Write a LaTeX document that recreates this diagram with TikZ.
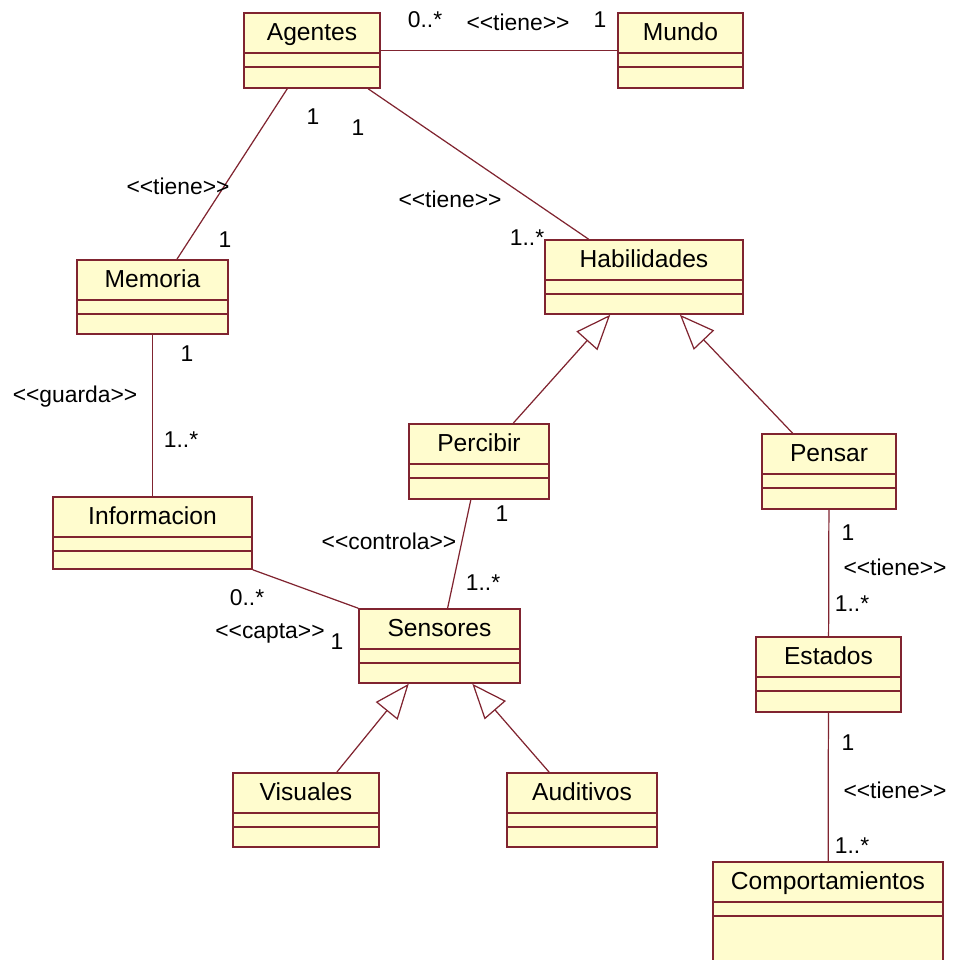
\documentclass[tikz,border=0pt]{standalone}
\usepackage{fontspec}
\setmainfont{Liberation Sans}[Ligatures=TeXOff]
\usetikzlibrary{calc,positioning,arrows.meta}
\definecolor{roseline}{RGB}{128,36,48}
\definecolor{rosefill}{RGB}{255,252,206}
\tikzset{
  class box/.style 2 args={
    draw=roseline, fill=rosefill, line width=.9pt,
    rectangle, inner sep=0pt,
    minimum width=#1*0.02cm, minimum height=#2*0.02cm
  },
  class name/.style={anchor=base, font=\fontsize{14}{16}\selectfont},
  compartment/.style={draw=roseline, line width=.9pt},
  assoc/.style={draw=roseline, line width=.7pt},
  generalize/.style={assoc, -{Triangle[open,length=0.7cm,width=0.56cm]}},
  mult/.style={font=\fontsize{13}{15}\selectfont, inner sep=0pt}
}
\newcommand{\stereo}[1]{<<#1>>}

\begin{document}
\begin{tikzpicture}[x=0.02cm,y=-0.02cm]
  \path[use as bounding box] (0,0) rectangle (958,960);
  \clip (0,0) rectangle (958,960);

  % classes: name/text/centre x/centre y/width/height
  \foreach \nm/\txt/\cx/\cy/\bw/\bh in {agentes/Agentes/312/50.5/136/75,
      mundo/Mundo/680.5/50.5/125/75,
      memoria/Memoria/152.5/297/151/74,
      habilidades/Habilidades/644/277/198/74,
      percibir/Percibir/479/461.5/140/75,
      pensar/Pensar/829/471.5/134/75,
      informacion/Informacion/152.5/533/199/72,
      sensores/Sensores/439.5/646/161/74,
      estados/Estados/828.5/674.5/145/75,
      visuales/Visuales/306/810/146/74,
      auditivos/Auditivos/582/810/150/74,
      comportamientos/Comportamientos/828/931/230/138}
  {
    \node[class box={\bw}{\bh}] (\nm) at (\cx,\cy) {};
    \draw[compartment] ([yshift=-0.82cm]\nm.north west) -- ([yshift=-0.82cm]\nm.north east)
      ([yshift=-1.1cm]\nm.north west) -- ([yshift=-1.1cm]\nm.north east);
    \node[class name] (\nm_label) at ([yshift=-0.56cm]\nm.north) {\txt};
  }

  % associations
  \draw[assoc] (agentes) -- (mundo);
  \draw[assoc] (agentes) -- (memoria);
  \draw[assoc] (agentes) -- (habilidades);
  \draw[assoc] (memoria) -- (informacion);
  \draw[assoc] (informacion.south east) -- (sensores.north west);
  \draw[assoc] (percibir) -- (sensores);
  \draw[assoc] (pensar) -- (estados);
  \draw[assoc] (estados) -- (comportamientos);

  % generalizations
  \draw[generalize] (percibir) -- (habilidades);
  \draw[generalize] (pensar) -- (habilidades);
  \draw[generalize] (visuales) -- (sensores);
  \draw[generalize] (auditivos) -- (sensores);

  % multiplicities and stereotypes
  \node[mult] (am_a) at (425,20) {0..*};
  \node[mult] (am_s) at (518,22) {\stereo{tiene}};
  \node[mult] (am_b) at (600,20) {1};
  \node[mult] (ame_a) at (313,117) {1};
  \node[mult] (ame_s) at (178,186) {\stereo{tiene}};
  \node[mult] (ame_b) at (225,240) {1};
  \node[mult] (ah_a) at (358,128) {1};
  \node[mult] (ah_s) at (450,199) {\stereo{tiene}};
  \node[mult] (ah_b) at (527,238) {1..*};
  \node[mult] (mi_a) at (187,354) {1};
  \node[mult] (mi_s) at (75,397) {\stereo{guarda}};
  \node[mult] (mi_b) at (181,440) {1..*};
  \node[mult] (ps_a) at (502,514) {1};
  \node[mult] (ps_s) at (389,541) {\stereo{controla}};
  \node[mult] (ps_b) at (483,583) {1..*};
  \node[mult] (is_a) at (247,598) {0..*};
  \node[mult] (is_s) at (270,633) {\stereo{capta}};
  \node[mult] (is_b) at (337,642) {1};
  \node[mult] (pe_a) at (848,533) {1};
  \node[mult] (pe_s) at (895,567) {\stereo{tiene}};
  \node[mult] (pe_b) at (852,604) {1..*};
  \node[mult] (ec_a) at (848,743) {1};
  \node[mult] (ec_s) at (895,790) {\stereo{tiene}};
  \node[mult] (ec_b) at (852,846) {1..*};
\end{tikzpicture}
\end{document}
